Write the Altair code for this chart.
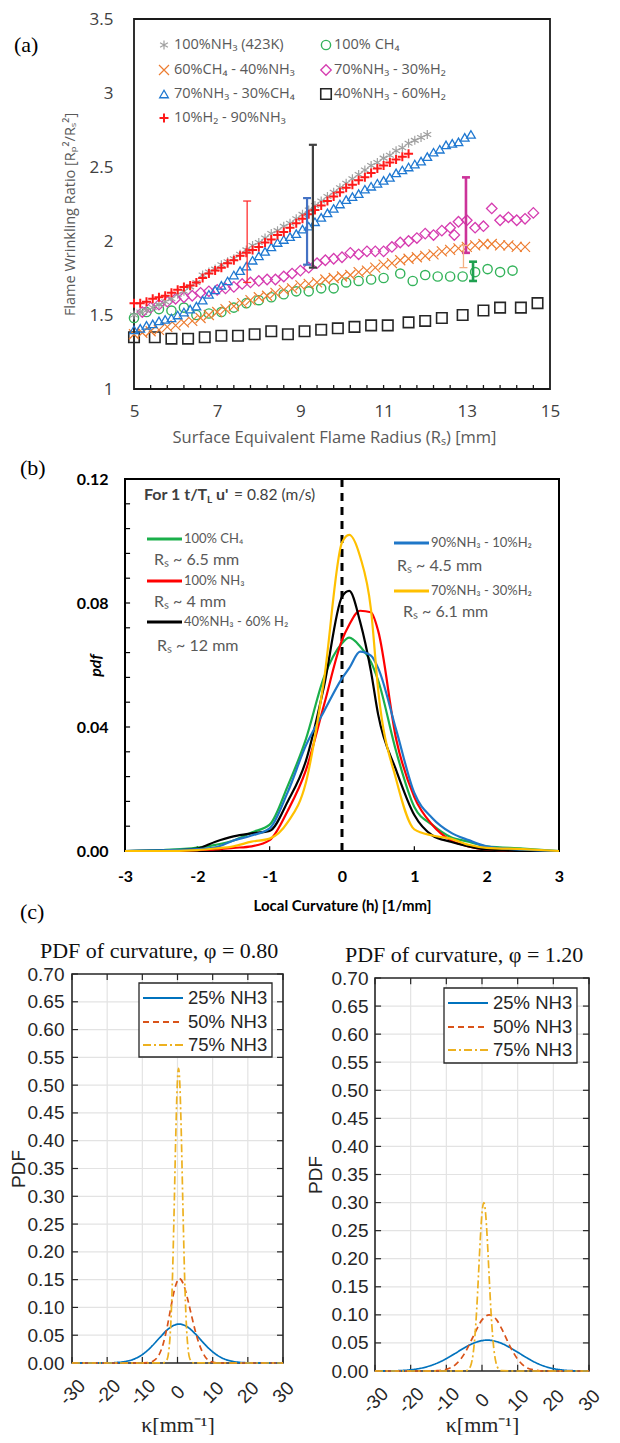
import altair as alt
import pandas as pd

# ============================ DATA ============================
# ---------- (a) flame wrinkling ratio vs surface-equivalent radius ----------
A_X_DOMAIN = [5, 15]
A_Y_DOMAIN = [1, 3.5]
A_X_TICKS = [5, 7, 9, 11, 13, 15]
A_Y_TICKS = [1, 1.5, 2, 2.5, 3, 3.5]
A_MINOR_X = [5.4, 5.8, 6.2, 6.6, 7.0, 7.4, 7.8, 8.2, 8.6, 9.0, 9.4, 9.8, 10.2, 10.6,
             11.0, 11.4, 11.8, 12.2, 12.6, 13.0, 13.4, 13.8, 14.2, 14.6]

A_NAMES = ["100%NH₃ (423K)", "100% CH₄", "60%CH₄ - 40%NH₃", "70%NH₃ - 30%H₂",
           "70%NH₃ - 30%CH₄", "40%NH₃ - 60%H₂", "10%H₂ - 90%NH₃"]

A_GRID = [5.0, 5.15, 5.3, 5.45, 5.6, 5.75, 5.9, 6.05, 6.2, 6.35,
          6.5, 6.65, 6.8, 6.95, 7.1, 7.25, 7.4, 7.55, 7.7, 7.85,
          8.0, 8.15, 8.3, 8.45, 8.6, 8.75, 8.9, 9.05, 9.2, 9.35,
          9.5, 9.65, 9.8, 9.95, 10.1, 10.25, 10.4, 10.55, 10.7, 10.85,
          11.0, 11.15, 11.3, 11.45, 11.6, 11.75, 11.9, 12.05, 12.2, 12.35,
          12.5, 12.65, 12.8, 12.95, 13.1]
A_NH3_423K_Y = [1.50, 1.52, 1.53, 1.55, 1.57, 1.59, 1.61, 1.64, 1.66, 1.69,
                1.72, 1.77, 1.79, 1.81, 1.84, 1.86, 1.88, 1.91, 1.94, 1.97,
                1.99, 2.02, 2.05, 2.07, 2.10, 2.12, 2.15, 2.18, 2.21, 2.24,
                2.27, 2.30, 2.33, 2.36, 2.39, 2.42, 2.45, 2.48, 2.51, 2.53,
                2.56, 2.58, 2.61, 2.63, 2.66, 2.68, 2.70, 2.72]
A_H2_NH3_Y = [1.58, 1.58, 1.59, 1.61, 1.62, 1.63, 1.65, 1.67, 1.69, 1.70,
              1.72, 1.75, 1.78, 1.80, 1.82, 1.85, 1.87, 1.90, 1.92, 1.94,
              1.96, 1.99, 2.01, 2.04, 2.06, 2.09, 2.12, 2.15, 2.18, 2.21,
              2.24, 2.27, 2.30, 2.33, 2.36, 2.38, 2.41, 2.43, 2.46, 2.49,
              2.51, 2.53, 2.55, 2.57, 2.59]
A_NH3_CH4_Y = [1.40, 1.41, 1.43, 1.44, 1.46, 1.47, 1.48, 1.50, 1.52, 1.54,
               1.56, 1.60, 1.64, 1.67, 1.70, 1.73, 1.77, 1.80, 1.83, 1.87,
               1.90, 1.93, 1.96, 1.99, 2.01, 2.03, 2.05, 2.08, 2.10, 2.13,
               2.16, 2.19, 2.22, 2.25, 2.28, 2.30, 2.32, 2.35, 2.37, 2.39,
               2.41, 2.43, 2.46, 2.48, 2.50, 2.52, 2.54, 2.57, 2.60, 2.62,
               2.65, 2.66, 2.67, 2.70, 2.72]
A_CH4_NH3_X = [5.0, 5.2, 5.4, 5.6, 5.8, 6.0, 6.2, 6.4, 6.6, 6.8,
               7.0, 7.2, 7.4, 7.6, 7.8, 8.0, 8.2, 8.4, 8.6, 8.8,
               9.0, 9.2, 9.4, 9.6, 9.8, 10.0, 10.2, 10.4, 10.6, 10.8,
               11.0, 11.2, 11.4, 11.6, 11.8, 12.0, 12.2, 12.4, 12.6, 12.8,
               13.0, 13.2, 13.4, 13.6, 13.8, 14.0, 14.2, 14.4]
A_CH4_NH3_Y = [1.37, 1.38, 1.39, 1.40, 1.42, 1.43, 1.45, 1.46, 1.48, 1.50,
               1.52, 1.54, 1.56, 1.58, 1.60, 1.62, 1.63, 1.65, 1.67, 1.68,
               1.70, 1.71, 1.72, 1.74, 1.75, 1.76, 1.77, 1.79, 1.80, 1.82,
               1.84, 1.85, 1.87, 1.88, 1.89, 1.90, 1.91, 1.93, 1.94, 1.95,
               1.96, 1.97, 1.98, 1.98, 1.97, 1.97, 1.96, 1.96]
A_NH3_H2_X = [5.2, 5.4, 5.6, 5.8, 6.0, 6.2, 6.4, 6.6, 6.8, 7.0,
              7.2, 7.4, 7.6, 7.8, 8.0, 8.2, 8.4, 8.6, 8.8, 9.0,
              9.2, 9.4, 9.6, 9.8, 10.0, 10.2, 10.4, 10.6, 10.8, 11.0,
              11.2, 11.4, 11.6, 11.8, 12.0, 12.2, 12.4, 12.6, 12.7, 12.8,
              13.0, 13.2, 13.4, 13.6, 13.8, 14.0, 14.2, 14.4, 14.6]
A_NH3_H2_Y = [1.52, 1.55, 1.57, 1.59, 1.61, 1.62, 1.63, 1.65, 1.66, 1.67,
              1.68, 1.69, 1.71, 1.72, 1.73, 1.74, 1.74, 1.76, 1.78, 1.80,
              1.82, 1.85, 1.87, 1.88, 1.89, 1.92, 1.91, 1.93, 1.93, 1.93,
              1.96, 1.99, 2.00, 2.02, 2.05, 2.04, 2.07, 2.09, 2.04, 2.13,
              2.14, 2.09, 2.10, 2.22, 2.14, 2.16, 2.14, 2.15, 2.19]
A_CH4_X = [5.0, 5.3, 5.6, 5.9, 6.2, 6.5, 6.8, 7.1, 7.4, 7.7,
           8.0, 8.3, 8.6, 8.9, 9.2, 9.5, 9.8, 10.1, 10.4, 10.7,
           11.0, 11.4, 11.7, 12.0, 12.3, 12.6, 12.9, 13.2, 13.5, 13.8, 14.1]
A_CH4_Y = [1.48, 1.52, 1.54, 1.53, 1.55, 1.50, 1.51, 1.52, 1.55, 1.58,
           1.60, 1.62, 1.64, 1.66, 1.66, 1.68, 1.68, 1.72, 1.73, 1.74,
           1.75, 1.78, 1.73, 1.77, 1.76, 1.76, 1.76, 1.79, 1.81, 1.79, 1.80]
A_NH3_H2_4060_X = [5.0, 5.5, 5.9, 6.3, 6.7, 7.1, 7.5, 7.9, 8.3, 8.7, 9.1, 9.5,
                   9.9, 10.3, 10.7, 11.1, 11.6, 12.0, 12.4, 12.9, 13.4, 13.8, 14.3, 14.7]
A_NH3_H2_4060_Y = [1.35, 1.35, 1.34, 1.34, 1.35, 1.36, 1.36, 1.37, 1.39, 1.37, 1.39, 1.40,
                   1.41, 1.42, 1.43, 1.43, 1.45, 1.46, 1.48, 1.50, 1.53, 1.55, 1.55, 1.58]

A_ERR_X = [7.72, 9.3, 9.16, 12.98, 12.92, 13.15]
A_ERR_LO = [1.72, 1.82, 1.84, 1.92, 1.82, 1.73]
A_ERR_HI = [2.27, 2.65, 2.29, 2.43, 1.97, 1.86]

# ---------- (b) pdf of local curvature ----------
B_X_DOMAIN = [-3, 3]
B_Y_DOMAIN = [0, 0.12]
B_X_TICKS = [-3, -2, -1, 0, 1, 2, 3]
B_Y_TICKS = [0, 0.04, 0.08, 0.12]
B_MINOR_Y = [0.008, 0.016, 0.024, 0.032, 0.04, 0.048, 0.056, 0.064, 0.072,
             0.08, 0.088, 0.096, 0.104, 0.112]
B_MINOR_X = [-2, -1, 1, 2]
B_X = [-3, -2.5, -2, -1.75, -1.5, -1.25, -1, -0.75, -0.5, -0.25, 0, 0.1, 0.25, 0.4,
       0.5, 0.75, 1, 1.25, 1.5, 1.75, 2, 2.5, 3]
B_CH4 = [0, 0.0003, 0.0011, 0.002, 0.0034, 0.006, 0.0085, 0.021, 0.036, 0.056, 0.067,
         0.0688, 0.066, 0.061, 0.055, 0.032, 0.0142, 0.0084, 0.0045, 0.003, 0.0015, 0.0008, 0]
B_NH3 = [0, 0, 0.0003, 0.0005, 0.001, 0.0015, 0.0035, 0.013, 0.026, 0.047, 0.068,
         0.073, 0.0775, 0.077, 0.071, 0.036, 0.0174, 0.0084, 0.0035, 0.0015, 0.0005, 0, 0]
B_NH3_H2_40 = [0, 0.0001, 0.0008, 0.003, 0.0047, 0.0057, 0.0065, 0.016, 0.029, 0.053, 0.082,
               0.0839, 0.074, 0.058, 0.044, 0.026, 0.0116, 0.005, 0.003, 0.0015, 0.0005, 0, 0]
B_NH3_H2_90 = [0, 0.0002, 0.0006, 0.0012, 0.0034, 0.005, 0.0073, 0.019, 0.034, 0.045, 0.0557,
               0.059, 0.0643, 0.063, 0.059, 0.039, 0.0187, 0.0106, 0.006, 0.0035, 0.0015, 0.0004, 0]
B_NH3_H2_70 = [0, 0, 0.0003, 0.0008, 0.0015, 0.003, 0.004, 0.0093, 0.022, 0.055, 0.0995,
               0.102, 0.095, 0.078, 0.052, 0.023, 0.007, 0.005, 0.004, 0.002, 0.001, 0.0006, 0]
B_NAMES = ["100% CH₄", "100% NH₃", "40%NH₃ - 60% H₂", "90%NH₃ - 10%H₂", "70%NH₃ - 30%H₂"]
B_RS = ["Rₛ ~ 6.5 mm", "Rₛ ~ 4 mm", "Rₛ ~ 12 mm", "Rₛ ~ 4.5 mm", "Rₛ ~ 6.1 mm"]

# ---------- (c) PDF of curvature for phi = 0.80 / 1.20 ----------
C_X_DOMAIN = [-30, 30]
C_Y_DOMAIN = [0, 0.7]
C_X_TICKS = [-30, -20, -10, 0, 10, 20, 30]
C_Y_TICKS = [0.0, 0.05, 0.1, 0.15, 0.2, 0.25, 0.3, 0.35, 0.4, 0.45, 0.5, 0.55, 0.6, 0.65, 0.7]
C_NAMES = ["25% NH3", "50% NH3", "75% NH3"]

C1_K_25 = [-30, -25, -20, -17.5, -15, -12.5, -10, -7.5, -5, -2.5, 0, 0.5, 2.5, 5, 7.5, 10,
           12.5, 15, 17.5, 20, 25, 30]
C1_P_25 = [0, 0, 0.0002, 0.0008, 0.0025, 0.0067, 0.0151, 0.0288, 0.046, 0.0618, 0.0698, 0.070,
           0.0662, 0.0528, 0.0354, 0.020, 0.0095, 0.0038, 0.0013, 0.0004, 0, 0]
C1_K_50 = [-30, -12, -10, -8, -7, -6, -5, -4, -3, -2, -1, 0, 0.5, 1, 2, 3, 4, 5, 6, 7, 8, 9, 10, 12, 30]
C1_P_50 = [0, 0, 0.0003, 0.001, 0.003, 0.008, 0.018, 0.036, 0.063, 0.096, 0.128, 0.148, 0.152,
           0.150, 0.136, 0.112, 0.085, 0.059, 0.037, 0.021, 0.010, 0.004, 0.0015, 0, 0]
C1_K_75 = [-30, -10, -4, -3, -2.5, -2, -1.5, -1, -0.5, 0, 0.3, 0.6, 1, 1.5, 2, 2.5, 3, 3.5, 4.5, 10, 30]
C1_P_75 = [0, 0, 0.0003, 0.0059, 0.0208, 0.0596, 0.139, 0.2636, 0.4068, 0.5107, 0.53, 0.5107,
           0.4328, 0.2923, 0.1606, 0.0717, 0.0261, 0.0077, 0.0004, 0, 0]

C2_K_25 = [-30, -25, -20, -17.5, -15, -12.5, -10, -7.5, -5, -2.5, 0, 1.5, 2.5, 5, 7.5, 10,
           12.5, 15, 17.5, 20, 22.5, 25, 30]
C2_P_25 = [0, 0.0003, 0.0022, 0.0045, 0.0084, 0.0142, 0.0220, 0.0314, 0.0411, 0.0492, 0.0541,
           0.055, 0.0546, 0.0505, 0.0429, 0.0334, 0.0238, 0.0150, 0.0085, 0.0042, 0.0018, 0.0006, 0]
C2_K_50 = [-30, -15, -12.5, -10, -7.5, -5, -2.5, 0, 2, 4, 6, 8, 10, 12.5, 15, 17.5, 30]
C2_P_50 = [0, 0, 0.0005, 0.003, 0.011, 0.030, 0.061, 0.091, 0.100, 0.092, 0.069, 0.042, 0.021,
           0.006, 0.0015, 0, 0]
C2_K_75 = [-30, -10, -4.5, -3.5, -3, -2.5, -2, -1.5, -1, -0.5, 0, 0.5, 1, 1.5, 2, 2.5, 3, 3.5,
           4, 4.5, 5.5, 10, 30]
C2_P_75 = [0, 0, 0.0005, 0.005, 0.013, 0.030, 0.061, 0.108, 0.169, 0.2325, 0.2815, 0.30, 0.2815,
           0.2325, 0.169, 0.108, 0.061, 0.030, 0.013, 0.005, 0.0005, 0, 0]

# ============================ STYLES ============================
ASTER = "M0,-1L0,1M-0.87,-0.5L0.87,0.5M-0.87,0.5L0.87,-0.5"
XMARK = "M-1,-1L1,1M-1,1L1,-1"
PLUS = "M-1,0L1,0M0,-1L0,1"
A_STYLE = {
    A_NAMES[0]: dict(color="#A0A0A0", shape=ASTER, size=81, sw=1.2),
    A_NAMES[1]: dict(color="#33B35A", shape="circle", size=85, sw=1.4),
    A_NAMES[2]: dict(color="#ED7D31", shape=XMARK, size=100, sw=1.2),
    A_NAMES[3]: dict(color="#D63CB0", shape="diamond", size=110, sw=1.3),
    A_NAMES[4]: dict(color="#1F78D1", shape="triangle-up", size=75, sw=1.3),
    A_NAMES[5]: dict(color="#262626", shape="square", size=110, sw=1.6),
    A_NAMES[6]: dict(color="#FF1A1A", shape=PLUS, size=81, sw=2.0),
}
A_ERR_STYLE = [("#FF3030", 1.3), ("#404040", 2.2), ("#4472C4", 2.2), ("#CC3399", 2.6),
               ("#F4B183", 1.3), ("#1FA050", 2.6)]
B_COLORS = ["#1AAF4B", "#FF0000", "#000000", "#1F77C8", "#FFC000"]
C_COLORS = ["#0072BD", "#D95319", "#EDB120"]
C_DASH = [[1, 0], [6, 4], [8, 3, 2, 3]]

FA = "Open Sans"
FB = "Lato"
FC = "Liberation Sans"
FS = "Liberation Serif"

ONE = pd.DataFrame({"k": [0]})


def text(s, x, y, size, font, color="#000000", weight="normal", style="normal",
         align="left", baseline="middle"):
    return alt.Chart(ONE).mark_text(text=s, align=align, baseline=baseline, font=font,
                                    fontSize=size, fontWeight=weight, fontStyle=style,
                                    color=color).encode(x=alt.value(x), y=alt.value(y))


def seg(x1, x2, y, color, width, dash=None):
    props = dict(color=color, strokeWidth=width)
    if dash is not None:
        props["strokeDash"] = dash
    return alt.Chart(ONE).mark_rule(**props).encode(x=alt.value(x1), x2=alt.value(x2), y=alt.value(y))


def sym(x, y, st):
    return alt.Chart(ONE).mark_point(shape=st["shape"], color=st["color"], size=st["size"],
                                     filled=False, strokeWidth=st["sw"], opacity=1).encode(
        x=alt.value(x), y=alt.value(y))


# ============================ PANEL (a) ============================
WA, HA = 604, 452
XA = alt.X("x:Q", scale=alt.Scale(domain=A_X_DOMAIN, range=[126, 542], nice=False, zero=False),
           axis=alt.Axis(orient="bottom", offset=-71, values=A_X_TICKS, ticks=False, domain=False,
                         grid=False, labelFlush=False, labelOverlap=False, labelFont=FA,
                         labelFontSize=17, labelColor="#404040", labelPadding=14,
                         title="Surface Equivalent Flame Radius (Rₛ) [mm]", titleFont=FA,
                         titleFontSize=16.5, titleFontWeight="normal", titleColor="#595959",
                         titleX=326, titleY=48, titleAlign="center", titleBaseline="middle"))
YA = alt.Y("y:Q", scale=alt.Scale(domain=A_Y_DOMAIN, range=[381, 11], nice=False, zero=False),
           axis=alt.Axis(orient="left", offset=-126, values=A_Y_TICKS, format="~g", ticks=False,
                         domain=False, grid=False, labelOverlap=False, labelFont=FA, labelFontSize=17,
                         labelColor="#404040", labelPadding=21,
                         title="Flame Wrinkling Ratio [Rₚ²/Rₛ²]", titleFont=FA, titleFontSize=14.5,
                         titleFontWeight="normal", titleColor="#595959", titleAngle=270,
                         titleX=-64, titleY=206, titleAlign="center", titleBaseline="middle"))

a_layers = []
a_layers.append(alt.Chart(pd.DataFrame({"x": [A_X_DOMAIN[0]], "x2": [A_X_DOMAIN[1]],
                                        "y": [A_Y_DOMAIN[0]], "y2": [A_Y_DOMAIN[1]]}))
                .mark_rect(fillOpacity=0, stroke="#1a1a1a", strokeWidth=1.8)
                .encode(x=XA, x2="x2:Q", y=YA, y2="y2:Q"))
a_layers.append(alt.Chart(pd.DataFrame({"x": A_MINOR_X, "y": [A_Y_DOMAIN[0]] * len(A_MINOR_X),
                                        "y2": [1.027] * len(A_MINOR_X)}))
                .mark_rule(color="#1a1a1a", strokeWidth=1.3)
                .encode(x=XA, y=YA, y2="y2:Q"))

a_series = {
    A_NAMES[5]: (A_NH3_H2_4060_X, A_NH3_H2_4060_Y),
    A_NAMES[1]: (A_CH4_X, A_CH4_Y),
    A_NAMES[2]: (A_CH4_NH3_X, A_CH4_NH3_Y),
    A_NAMES[3]: (A_NH3_H2_X, A_NH3_H2_Y),
    A_NAMES[4]: (A_GRID, A_NH3_CH4_Y),
    A_NAMES[0]: (A_GRID[:len(A_NH3_423K_Y)], A_NH3_423K_Y),
    A_NAMES[6]: (A_GRID[:len(A_H2_NH3_Y)], A_H2_NH3_Y),
}
for name, (xs, ys) in a_series.items():
    st = A_STYLE[name]
    a_layers.append(alt.Chart(pd.DataFrame({"x": xs, "y": ys}))
                    .mark_point(shape=st["shape"], color=st["color"], size=st["size"], filled=False,
                                strokeWidth=st["sw"], opacity=1)
                    .encode(x=XA, y=YA))

for i, (ex, lo, hi) in enumerate(zip(A_ERR_X, A_ERR_LO, A_ERR_HI)):
    col, w = A_ERR_STYLE[i]
    a_layers.append(alt.Chart(pd.DataFrame({"x": [ex], "y": [lo], "y2": [hi]}))
                    .mark_rule(color=col, strokeWidth=w).encode(x=XA, y=YA, y2="y2:Q"))
    a_layers.append(alt.Chart(pd.DataFrame({"x": [ex, ex], "y": [lo, hi]}))
                    .mark_point(shape="stroke", size=64, color=col, strokeWidth=w, opacity=1)
                    .encode(x=XA, y=YA))

LEG_A_SYM_X = [156, 318]
LEG_A_TXT_X = [166, 326]
LEG_A_ROW_Y = [37, 62, 86, 110]
for i, name in enumerate(A_NAMES):
    r, c = i // 2, i % 2
    a_layers.append(sym(LEG_A_SYM_X[c], LEG_A_ROW_Y[r], A_STYLE[name]))
    a_layers.append(text(name, LEG_A_TXT_X[c], LEG_A_ROW_Y[r], 14.5, FA, color="#595959"))
a_layers.append(text("(a)", 6, 37, 22, FS))

panel_a = alt.layer(*a_layers).properties(width=WA, height=HA)

# ============================ PANEL (b) ============================
WB, HB = 604, 435
XB = alt.X("x:Q", scale=alt.Scale(domain=B_X_DOMAIN, range=[117, 551], nice=False, zero=False),
           axis=alt.Axis(orient="bottom", offset=-44, values=B_X_TICKS, labelExpr="'' + datum.value",
                         ticks=False, domain=False, grid=False, labelFlush=False, labelOverlap=False,
                         labelFont=FB, labelFontSize=16, labelFontWeight="bold", labelColor="#000000",
                         labelPadding=17, title="Local Curvature (h) [1/mm]", titleFont=FB,
                         titleFontSize=15, titleFontWeight="bold", titleColor="#000000",
                         titleY=54, titleBaseline="middle"))
YB = alt.Y("y:Q", scale=alt.Scale(domain=B_Y_DOMAIN, range=[391, 19], nice=False, zero=False),
           axis=alt.Axis(orient="left", offset=-117, values=B_Y_TICKS, format=".2f", ticks=False,
                         domain=False, grid=False, labelOverlap=False, labelFont=FB, labelFontSize=16,
                         labelFontWeight="bold", labelColor="#000000", labelPadding=17,
                         title="pdf", titleFont=FB, titleFontSize=16, titleFontWeight="bold",
                         titleFontStyle="italic", titleColor="#000000", titleAngle=270,
                         titleX=-30, titleY=205, titleAlign="center", titleBaseline="middle"))

b_layers = []
b_layers.append(alt.Chart(pd.DataFrame({"x": [B_X_DOMAIN[0]], "x2": [B_X_DOMAIN[1]],
                                        "y": [B_Y_DOMAIN[0]], "y2": [B_Y_DOMAIN[1]]}))
                .mark_rect(fillOpacity=0, stroke="#000000", strokeWidth=2)
                .encode(x=XB, x2="x2:Q", y=YB, y2="y2:Q"))
b_layers.append(alt.Chart(pd.DataFrame({"x": [B_X_DOMAIN[0]] * len(B_MINOR_Y),
                                        "x2": [-2.93] * len(B_MINOR_Y), "y": B_MINOR_Y}))
                .mark_rule(color="#000000", strokeWidth=1.2).encode(x=XB, x2="x2:Q", y=YB))
b_layers.append(alt.Chart(pd.DataFrame({"x": B_MINOR_X, "y": [0] * len(B_MINOR_X),
                                        "y2": [0.0015] * len(B_MINOR_X)}))
                .mark_rule(color="#000000", strokeWidth=1.2).encode(x=XB, y=YB, y2="y2:Q"))
b_layers.append(alt.Chart(pd.DataFrame({"x": [0], "y": [B_Y_DOMAIN[0]], "y2": [B_Y_DOMAIN[1]]}))
                .mark_rule(color="#000000", strokeWidth=3, strokeDash=[8, 6])
                .encode(x=XB, y=YB, y2="y2:Q"))
for ys, col in zip([B_CH4, B_NH3, B_NH3_H2_40, B_NH3_H2_90, B_NH3_H2_70], B_COLORS):
    b_layers.append(alt.Chart(pd.DataFrame({"x": B_X, "y": ys}))
                    .mark_line(color=col, strokeWidth=2.2, interpolate="monotone")
                    .encode(x=XB, y=YB))

# annotations / hand legend of (b)
b_layers += [
    text("For 1 t/T", 136, 35, 16, FB, color="#404040", weight="bold"),
    text("L", 199, 40, 10, FB, color="#404040", weight="bold"),
    text("u'", 208, 35, 16, FB, color="#404040", weight="bold"),
    text("= 0.82 (m/s)", 226, 35, 15.5, FB, color="#404040"),
]
LEG_B = [(139, 174, 176, 79, 146, 100), (139, 174, 176, 121, 146, 142), (139, 174, 176, 162, 149, 186),
         (386, 421, 423, 83, 389, 106), (386, 421, 423, 131, 395, 152)]
for i, (x1, x2, tx, ly, rx, ry) in enumerate(LEG_B):
    b_layers.append(seg(x1, x2, ly, B_COLORS[i], 3))
    b_layers.append(text(B_NAMES[i], tx, ly, 13, FB, color="#595959"))
    b_layers.append(text(B_RS[i], rx, ry, 16, FB, color="#595959"))
b_layers.append(text("(b)", 12, 8, 22, FS))

panel_b = alt.layer(*b_layers).properties(width=WB, height=HB)

# ============================ PANEL (c) ============================
WC, HC = 302, 540


def panel_c(xr, yr, xoff, yoff, ylabpad, ytitle_x, xtitle_y, curves, box, line_x, rows_y, lab_x,
            title, title_xy, extra):
    xs = alt.Scale(domain=C_X_DOMAIN, range=xr, nice=False, zero=False)
    ys = alt.Scale(domain=C_Y_DOMAIN, range=yr, nice=False, zero=False)
    X = alt.X("x:Q", scale=xs,
              axis=alt.Axis(orient="bottom", offset=xoff, values=C_X_TICKS, labelExpr="'' + datum.value",
                            labelAngle=315, labelAlign="center", labelBaseline="middle", labelPadding=29,
                            ticks=False, domain=False, grid=False, labelFlush=False, labelOverlap=False,
                            labelFont=FC, labelFontSize=19, labelColor="#262626",
                            title="κ[mm⁻¹]", titleFont=FS, titleFontSize=22, titleFontWeight="normal",
                            titleColor="#262626", titleY=xtitle_y, titleBaseline="middle"))
    Y = alt.Y("y:Q", scale=ys,
              axis=alt.Axis(orient="left", offset=yoff, values=C_Y_TICKS, format=".2f", ticks=False,
                            domain=False, grid=False, labelOverlap=False, labelFont=FC, labelFontSize=19,
                            labelColor="#262626", labelPadding=ylabpad, title="PDF", titleFont=FC,
                            titleFontSize=19, titleFontWeight="normal", titleColor="#262626",
                            titleAngle=270, titleX=ytitle_x, titleY=(yr[0] + yr[1]) / 2,
                            titleAlign="center", titleBaseline="middle"))
    L = []
    gx = C_X_TICKS[1:-1]
    gy = C_Y_TICKS[1:-1]
    L.append(alt.Chart(pd.DataFrame({"x": gx, "y": [C_Y_DOMAIN[0]] * len(gx), "y2": [C_Y_DOMAIN[1]] * len(gx)}))
             .mark_rule(color="#E3E3E3", strokeWidth=1.2).encode(x=X, y=Y, y2="y2:Q"))
    L.append(alt.Chart(pd.DataFrame({"x": [C_X_DOMAIN[0]] * len(gy), "x2": [C_X_DOMAIN[1]] * len(gy), "y": gy}))
             .mark_rule(color="#E3E3E3", strokeWidth=1.2).encode(x=X, x2="x2:Q", y=Y))
    # inside ticks (MATLAB style)
    ny, nx = len(C_Y_TICKS), len(C_X_TICKS)
    L.append(alt.Chart(pd.DataFrame({"x": [-30] * ny, "x2": [-28.3] * ny, "y": C_Y_TICKS}))
             .mark_rule(color="#262626", strokeWidth=1.2).encode(x=X, x2="x2:Q", y=Y))
    L.append(alt.Chart(pd.DataFrame({"x": [28.3] * ny, "x2": [30] * ny, "y": C_Y_TICKS}))
             .mark_rule(color="#262626", strokeWidth=1.2).encode(x=X, x2="x2:Q", y=Y))
    L.append(alt.Chart(pd.DataFrame({"x": C_X_TICKS, "y": [0] * nx, "y2": [0.011] * nx}))
             .mark_rule(color="#262626", strokeWidth=1.2).encode(x=X, y=Y, y2="y2:Q"))
    L.append(alt.Chart(pd.DataFrame({"x": C_X_TICKS, "y": [0.689] * nx, "y2": [0.7] * nx}))
             .mark_rule(color="#262626", strokeWidth=1.2).encode(x=X, y=Y, y2="y2:Q"))
    L.append(alt.Chart(pd.DataFrame({"x": [C_X_DOMAIN[0]], "x2": [C_X_DOMAIN[1]],
                                     "y": [C_Y_DOMAIN[0]], "y2": [C_Y_DOMAIN[1]]}))
             .mark_rect(fillOpacity=0, stroke="#262626", strokeWidth=1.6)
             .encode(x=X, x2="x2:Q", y=Y, y2="y2:Q"))
    for (ks, ps), col, dash in zip(curves, C_COLORS, C_DASH):
        L.append(alt.Chart(pd.DataFrame({"x": ks, "y": ps}))
                 .mark_line(color=col, strokeWidth=1.7, strokeDash=dash, interpolate="monotone")
                 .encode(x=X, y=Y))
    # legend box
    L.append(alt.Chart(ONE).mark_rect(fill="white", stroke="#262626", strokeWidth=1.3)
             .encode(x=alt.value(box[0]), x2=alt.value(box[1]), y=alt.value(box[2]), y2=alt.value(box[3])))
    for i, name in enumerate(C_NAMES):
        L.append(seg(line_x[0], line_x[1], rows_y[i], C_COLORS[i], 1.8, C_DASH[i]))
        L.append(text(name, lab_x, rows_y[i], 18.5, FC, color="#262626"))
    L.append(text(title, title_xy[0], title_xy[1], 22, FS, color="#111111"))
    L += extra
    return alt.layer(*L).properties(width=WC, height=HC)


c1 = panel_c([64, 275], [468, 79], -72, -64, 8, -54, 61,
             [(C1_K_25, C1_P_25), (C1_K_50, C1_P_50), (C1_K_75, C1_P_75)],
             (131, 264, 88, 162), (135, 175), [103, 127, 150], 180,
             "PDF of curvature, φ = 0.80", (32, 56), [text("(c)", 12, 17, 22, FS)])
c2 = panel_c([65, 279], [476, 83], -64, -65, 7, -60, 53,
             [(C2_K_25, C2_P_25), (C2_K_50, C2_P_50), (C2_K_75, C2_P_75)],
             (134, 267, 93, 168), (138, 178), [108, 132, 155], 183,
             "PDF of curvature, φ = 1.20", (35, 60), [])

row_c = alt.hconcat(c1, c2, spacing=0, bounds="flush")

chart = (alt.vconcat(panel_a, panel_b, row_c, spacing=0, bounds="flush")
         .properties(padding=0)
         .configure_view(strokeWidth=0))

chart.save("out.html", embed_options={"renderer": "svg", "actions": False})
